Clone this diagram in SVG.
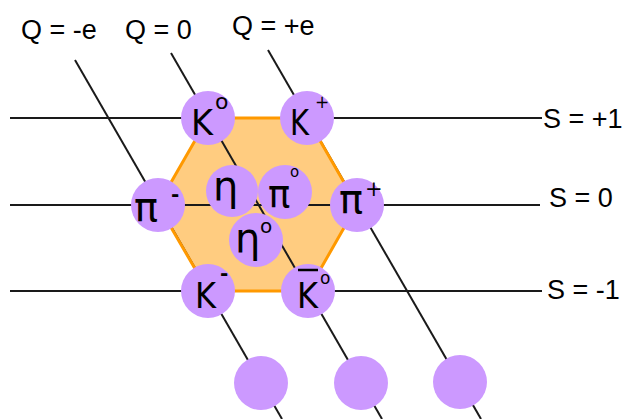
<svg xmlns="http://www.w3.org/2000/svg" width="624" height="419" viewBox="0 0 624 419">
<style>
.ln{stroke:#1a1a1a;stroke-width:2;fill:none}
.node{fill:#CC99FF}
.lbl{font-family:"Liberation Sans",Arial,sans-serif;font-size:27px;fill:#000}
.sym{font-family:"DejaVu Sans","Noto Sans",sans-serif;fill:#000}
.b{font-weight:bold}
</style>
<rect width="624" height="419" fill="#fff"/>
<g id="hexagon-fill">
<polygon points="208,118 307,118 357,205 308,291 208,291 158,205" fill="#FFCC80"/>
</g>
<g id="connectors">
<line class="ln" x1="10" y1="118" x2="542" y2="118"/>
<line class="ln" x1="10" y1="205" x2="540" y2="205"/>
<line class="ln" x1="10" y1="291" x2="542" y2="291"/>
<line class="ln" x1="75" y1="60" x2="282" y2="419"/>
<line class="ln" x1="171" y1="53" x2="382" y2="419"/>
<line class="ln" x1="268" y1="50" x2="481" y2="419"/>
</g>
<g id="hexagon-edge">
<polygon points="208,118 307,118 357,205 308,291 208,291 158,205" fill="none" stroke="#FF9900" stroke-width="3"/>
</g>
<g id="labels">
<text class="lbl" x="21" y="39">Q = -e</text>
<text class="lbl" x="125" y="39">Q = 0</text>
<text class="lbl" x="232" y="35">Q = +e</text>
<text class="lbl" x="543" y="128">S = +1</text>
<text class="lbl" x="549" y="207">S = 0</text>
<text class="lbl" x="547" y="299">S = -1</text>
</g>
<g id="K0"><circle class="node" cx="208" cy="118" r="27"/><text class="sym"><tspan x="191" y="135" font-size="36" textLength="22" lengthAdjust="spacingAndGlyphs">K</tspan><tspan x="215" y="109" font-size="22">o</tspan></text></g>
<g id="Kplus"><circle class="node" cx="307" cy="118" r="27"/><text class="sym"><tspan x="290" y="135" font-size="36" textLength="19" lengthAdjust="spacingAndGlyphs">K</tspan><tspan x="315" y="108" font-size="17">+</tspan></text></g>
<g id="piminus"><circle class="node" cx="158" cy="205" r="27"/><text class="sym"><tspan x="134" y="221" font-size="40">π</tspan><tspan class="b" x="171" y="201" font-size="20">-</tspan></text></g>
<g id="piplus"><circle class="node" cx="357" cy="205" r="27"/><text class="sym"><tspan x="339" y="213" font-size="40">π</tspan><tspan x="365" y="196" font-size="21">+</tspan></text></g>
<g id="eta"><circle class="node" cx="232" cy="191" r="26"/><text class="sym" x="213" y="200" font-size="40">η</text></g>
<g id="pi0"><circle class="node" cx="285" cy="192" r="27"/><text class="sym"><tspan x="268" y="207" font-size="37">π</tspan><tspan x="290" y="177" font-size="15">o</tspan></text></g>
<g id="eta0"><circle class="node" cx="256" cy="240" r="27"/><text class="sym"><tspan x="235" y="252" font-size="40">η</tspan><tspan x="260" y="233" font-size="20">o</tspan></text></g>
<g id="Kminus"><circle class="node" cx="208" cy="291" r="27"/><text class="sym"><tspan x="195" y="308" font-size="36" textLength="21" lengthAdjust="spacingAndGlyphs">K</tspan><tspan class="b" x="220" y="280" font-size="20">-</tspan></text></g>
<g id="K0bar"><circle class="node" cx="308" cy="291" r="27"/><text class="sym"><tspan x="297" y="308" font-size="36" textLength="21" lengthAdjust="spacingAndGlyphs">K</tspan><tspan x="320" y="284" font-size="17">o</tspan></text><line x1="298" y1="270" x2="318" y2="270" stroke="#000" stroke-width="2.5"/></g>
<g id="blank1"><circle class="node" cx="261" cy="383" r="27"/></g>
<g id="blank2"><circle class="node" cx="361" cy="383" r="27"/></g>
<g id="blank3"><circle class="node" cx="460" cy="382" r="27"/></g>
</svg>
